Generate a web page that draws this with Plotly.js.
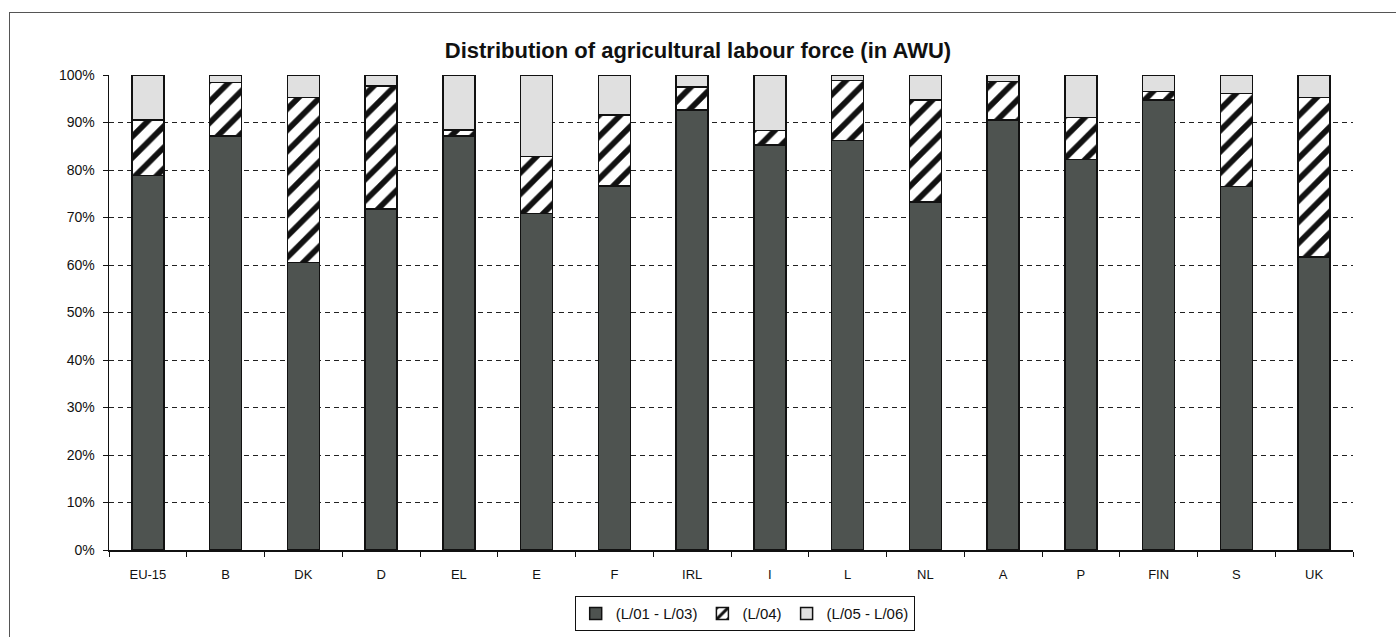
<!DOCTYPE html>
<html>
<head>
<meta charset="utf-8">
<script src="https://cdn.plot.ly/plotly-3.0.1.min.js"></script>
<style>
html,body{margin:0;padding:0;background:#fff;}
#wrap{position:relative;width:1396px;height:637px;}
#chart{position:absolute;left:0;top:0;width:1396px;height:637px;}
#frame{position:absolute;left:9px;top:12px;width:1400px;height:640px;border-left:1.5px solid #555;border-top:1.5px solid #555;pointer-events:none;}
</style>
</head>
<body>
<div id="wrap"><div id="chart"></div><div id="frame"></div></div>
<script>
const categories = ["EU-15","B","DK","D","EL","E","F","IRL","I","L","NL","A","P","FIN","S","UK"];
const seriesNames = ["(L/01 - L/03)","(L/04)","(L/05 - L/06)"];
// shares in percent
const l01_03 = [78.8, 87.2, 60.5, 71.8, 87.2, 70.8, 76.6, 92.6, 85.3, 86.2, 73.3, 90.5, 82.2, 94.7, 76.5, 61.7];
const l04    = [11.7, 11.2, 34.8, 25.9,  1.2, 12.0, 15.0,  4.9,  3.0, 12.6, 21.4,  8.1,  8.9,  1.8, 19.6, 33.6];
const l05_06 = categories.map((c,i)=> +(100 - l01_03[i] - l04[i]).toFixed(1));
const yTicks = [0,10,20,30,40,50,60,70,80,90,100];

const line = {color:'#111', width:1.5};
const traces = [
  {type:'bar', name:seriesNames[0], x:categories, y:l01_03,
   marker:{color:'#4e5350', line:line}},
  {type:'bar', name:seriesNames[1], x:categories, y:l04,
   marker:{color:'#ffffff', line:line,
     pattern:{shape:'/', bgcolor:'#ffffff', fgcolor:'#111', size:15, solidity:0.38}}},
  {type:'bar', name:seriesNames[2], x:categories, y:l05_06,
   marker:{color:'#e0e0e0', line:line}}
];

const layout = {
  width:1396, height:637,
  paper_bgcolor:'#ffffff', plot_bgcolor:'#ffffff',
  margin:{l:109, r:43, t:75, b:87, autoexpand:false},
  barmode:'stack', bargap:0.59,
  font:{family:'Liberation Sans, Arial, sans-serif', color:'#111'},
  title:{text:'<b>Distribution of agricultural labour force (in AWU)</b>',
         font:{size:22, color:'#111'}, x:0.5, xanchor:'center',
         yref:'container', y:0.921, yanchor:'middle'},
  xaxis:{type:'category', showline:true, linecolor:'#111', linewidth:1.5,
         ticks:'outside', ticklen:5, tickcolor:'#111', tickson:'boundaries',
         ticklabelstandoff:12, automargin:false,
         tickfont:{size:13}, showgrid:false, zeroline:false, fixedrange:true},
  yaxis:{range:[0,100], tickvals:yTicks, ticktext:yTicks.map(v=>v+'%'),
         showline:true, linecolor:'#111', linewidth:1.5, automargin:false,
         ticks:'outside', ticklen:5, tickcolor:'#111', tickfont:{size:14},
         ticklabelstandoff:5,
         showgrid:true, gridcolor:'#222', gridwidth:1, griddash:'5px,4px',
         zeroline:false, fixedrange:true},
  legend:{orientation:'h', x:0.511, xanchor:'center', xref:'paper',
          yref:'container', y:0.064, yanchor:'top',
          bordercolor:'#111', borderwidth:1, font:{size:15}, itemwidth:30,
          traceorder:'normal', bgcolor:'#ffffff'},
  showlegend:true
};
Plotly.newPlot('chart', traces, layout, {displayModeBar:false, staticPlot:true});
</script>
</body>
</html>
